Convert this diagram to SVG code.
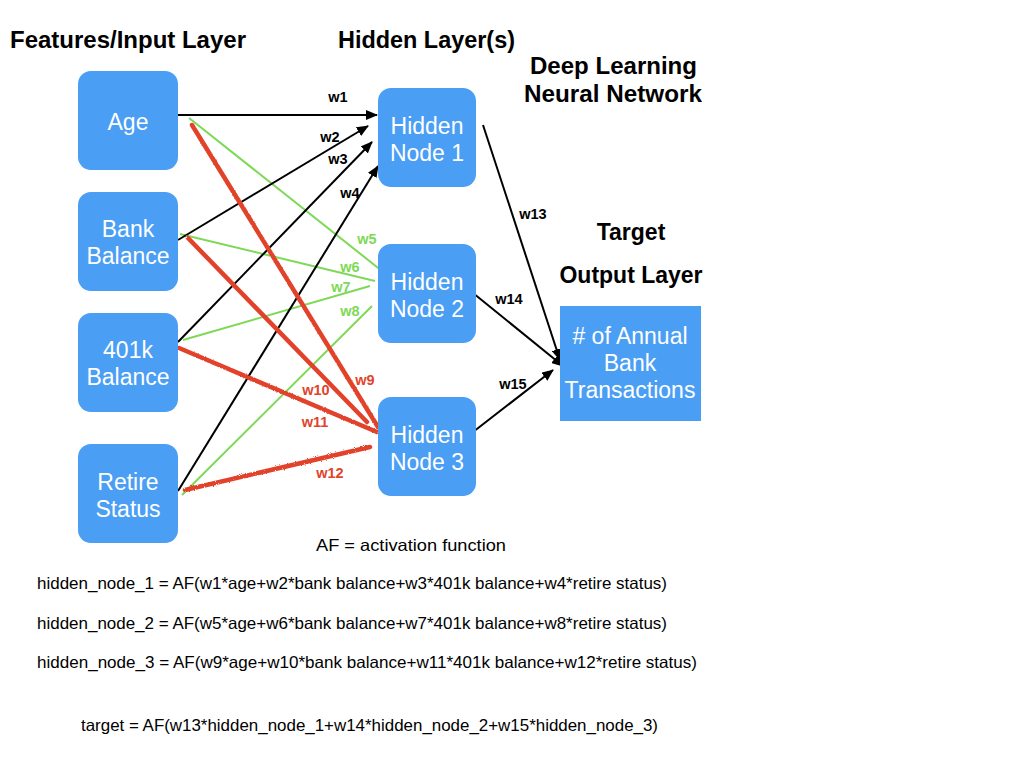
<svg xmlns="http://www.w3.org/2000/svg" width="1024" height="768" viewBox="0 0 1024 768">
<defs>
<marker id="arr" viewBox="0 0 12 10" refX="11" refY="5" markerWidth="12" markerHeight="10" markerUnits="userSpaceOnUse" orient="auto">
<path d="M0,0 L12,5 L0,10 Z" fill="#000"/>
</marker>
<filter id="rough" x="-5%" y="-5%" width="110%" height="110%">
<feTurbulence type="fractalNoise" baseFrequency="0.9" numOctaves="2" seed="3" result="n"/>
<feDisplacementMap in="SourceGraphic" in2="n" scale="2.5"/>
</filter>
</defs>
<style>
.title{font-family:"Liberation Sans",Arial,sans-serif;font-weight:bold;font-size:23px;fill:#000}
.node rect{fill:#4A9EF4}
.nt{font-family:"Liberation Sans",Arial,sans-serif;font-size:23px;fill:#fff;text-anchor:middle}
.blk{stroke:#000;stroke-width:2;fill:none}
.grn{stroke:#7ED957;stroke-width:2;fill:none}
.red{stroke:#E2432C;stroke-width:4.5;fill:none;stroke-linecap:round}
.wl{font-family:"Liberation Sans",Arial,sans-serif;font-weight:bold;font-size:14.5px;text-anchor:middle}
.wb{fill:#000}
.wg{fill:#7ED957}
.wr{fill:#E2432C}
.f{font-family:"Liberation Sans",Arial,sans-serif;font-size:16.5px;fill:#000}
</style>
<rect width="1024" height="768" fill="#fff"/>

<text class="title" x="10" y="48" textLength="236" lengthAdjust="spacingAndGlyphs">Features/Input Layer</text>
<text class="title" x="338" y="48" textLength="177" lengthAdjust="spacingAndGlyphs">Hidden Layer(s)</text>
<text class="title" x="530" y="74" textLength="167" lengthAdjust="spacingAndGlyphs">Deep Learning</text>
<text class="title" x="524" y="102" textLength="178" lengthAdjust="spacingAndGlyphs">Neural Network</text>
<text class="title" x="631" y="240" text-anchor="middle">Target</text>
<text class="title" x="631" y="283" text-anchor="middle">Output Layer</text>

<g id="connectors">
<g id="green">
<line class="grn" x1="189" y1="118" x2="382" y2="271"/>
<line class="grn" x1="180" y1="234" x2="375" y2="281"/>
<line class="grn" x1="183" y1="340" x2="370" y2="286"/>
<line class="grn" x1="182" y1="495" x2="372" y2="306"/>
</g>
<g id="black">
<line class="blk" x1="178" y1="115" x2="377" y2="115" marker-end="url(#arr)"/>
<line class="blk" x1="178" y1="240" x2="368" y2="126" marker-end="url(#arr)"/>
<line class="blk" x1="178" y1="342" x2="372" y2="142" marker-end="url(#arr)"/>
<line class="blk" x1="178" y1="491" x2="378" y2="166" marker-end="url(#arr)"/>
<line class="blk" x1="483" y1="125" x2="560" y2="360" marker-end="url(#arr)"/>
<line class="blk" x1="473" y1="293" x2="563" y2="366" marker-end="url(#arr)"/>
<line class="blk" x1="473" y1="432" x2="553" y2="370" marker-end="url(#arr)"/>
</g>
<g id="red" filter="url(#rough)">
<line class="red" x1="192" y1="125" x2="378" y2="427"/>
<line class="red" x1="188" y1="238" x2="367" y2="422"/>
<line class="red" x1="179" y1="348" x2="377" y2="432"/>
<line class="red" x1="185" y1="490" x2="370" y2="447"/>
</g>
</g>

<g id="weights">
<text class="wl wb" x="338" y="102">w1</text>
<text class="wl wb" x="330" y="142">w2</text>
<text class="wl wb" x="338" y="164">w3</text>
<text class="wl wb" x="350" y="198">w4</text>
<text class="wl wg" x="367" y="244">w5</text>
<text class="wl wg" x="350" y="272">w6</text>
<text class="wl wg" x="341" y="292">w7</text>
<text class="wl wg" x="350" y="316">w8</text>
<text class="wl wr" x="365" y="385">w9</text>
<text class="wl wr" x="316" y="395">w10</text>
<text class="wl wr" x="315" y="427">w11</text>
<text class="wl wr" x="330" y="478">w12</text>
<text class="wl wb" x="533" y="219">w13</text>
<text class="wl wb" x="509" y="304">w14</text>
<text class="wl wb" x="513" y="389">w15</text>
</g>

<g id="age" class="node"><rect x="78" y="71" width="100" height="99" rx="13"/><text class="nt" x="128" y="130">Age</text></g>
<g id="bank" class="node"><rect x="78" y="192" width="100" height="99" rx="13"/><text class="nt" x="128" y="237">Bank</text><text class="nt" x="128" y="264">Balance</text></g>
<g id="k401" class="node"><rect x="78" y="313" width="100" height="99" rx="13"/><text class="nt" x="128" y="358">401k</text><text class="nt" x="128" y="385">Balance</text></g>
<g id="retire" class="node"><rect x="78" y="444" width="100" height="99" rx="13"/><text class="nt" x="128" y="490">Retire</text><text class="nt" x="128" y="517">Status</text></g>

<g id="hidden1" class="node"><rect x="378" y="88" width="98" height="99" rx="13"/><text class="nt" x="427" y="134">Hidden</text><text class="nt" x="427" y="161">Node 1</text></g>
<g id="hidden2" class="node"><rect x="378" y="244" width="98" height="99" rx="13"/><text class="nt" x="427" y="290">Hidden</text><text class="nt" x="427" y="317">Node 2</text></g>
<g id="hidden3" class="node"><rect x="378" y="397" width="98" height="99" rx="13"/><text class="nt" x="427" y="443">Hidden</text><text class="nt" x="427" y="470">Node 3</text></g>

<g id="output" class="node"><rect x="560" y="306" width="141" height="115"/><text class="nt" x="630" y="344"># of Annual</text><text class="nt" x="630" y="371">Bank</text><text class="nt" x="630" y="398">Transactions</text></g>

<text class="f" x="316" y="551" textLength="190" lengthAdjust="spacingAndGlyphs">AF = activation function</text>
<text class="f" x="37" y="589" textLength="630" lengthAdjust="spacingAndGlyphs">hidden_node_1 = AF(w1*age+w2*bank balance+w3*401k balance+w4*retire status)</text>
<text class="f" x="37" y="629" textLength="630" lengthAdjust="spacingAndGlyphs">hidden_node_2 = AF(w5*age+w6*bank balance+w7*401k balance+w8*retire status)</text>
<text class="f" x="37" y="668" textLength="660" lengthAdjust="spacingAndGlyphs">hidden_node_3 = AF(w9*age+w10*bank balance+w11*401k balance+w12*retire status)</text>
<text class="f" x="81" y="731" textLength="577" lengthAdjust="spacingAndGlyphs">target = AF(w13*hidden_node_1+w14*hidden_node_2+w15*hidden_node_3)</text>
</svg>
